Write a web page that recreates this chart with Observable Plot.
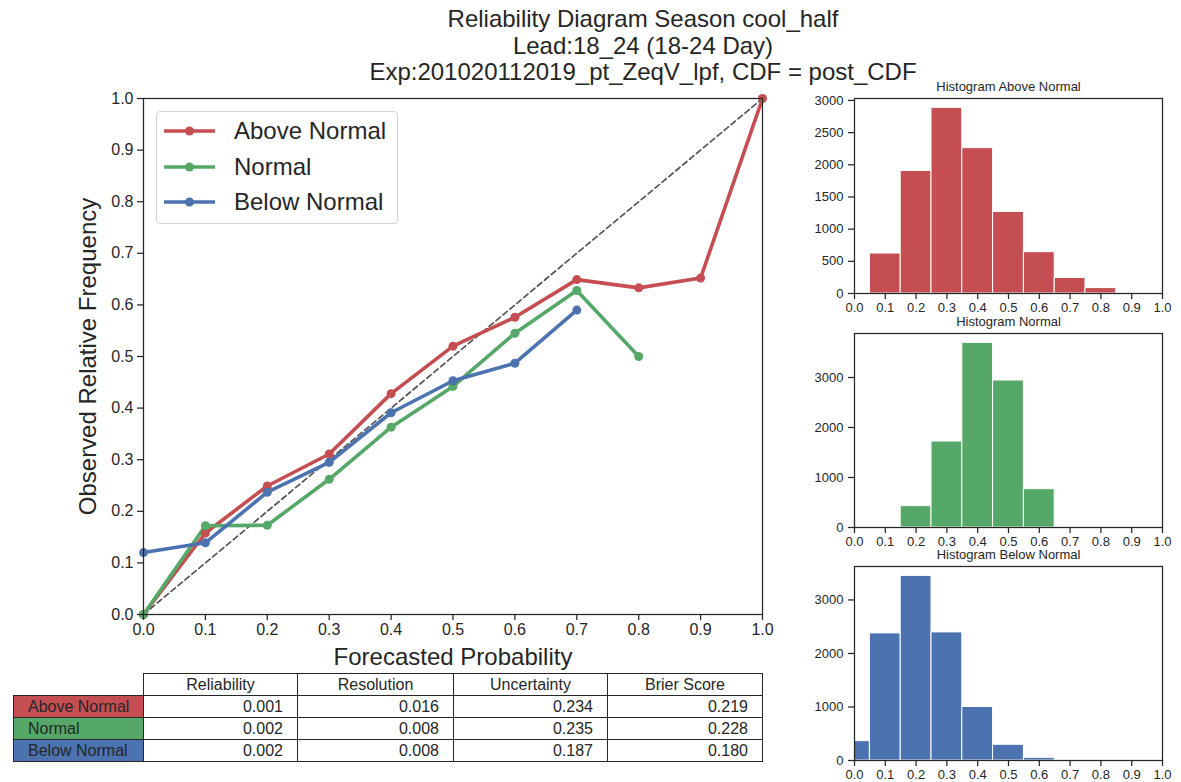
<!DOCTYPE html>
<html><head><meta charset="utf-8">
<script src="https://cdn.jsdelivr.net/npm/d3@7"></script>
<script src="https://cdn.jsdelivr.net/npm/@observablehq/plot@0.6"></script>
<style>
body{margin:0;background:#fff;font-family:"Liberation Sans",Arial,sans-serif;color:#262626}
#root{position:relative;width:1181px;height:782px;overflow:hidden;background:#fff}
.abs{position:absolute}
.abs svg{overflow:visible}
.cell{position:absolute;box-sizing:border-box;border:1px solid #262626;font-size:16px;line-height:20px;white-space:nowrap}
</style></head><body><div id="root"></div>
<script>
// ---- data ----
const titleLines = ["Reliability Diagram Season cool_half", "Lead:18_24 (18-24 Day)", "Exp:201020112019_pt_ZeqV_lpf, CDF = post_CDF"];
const categories = ["Above Normal", "Normal", "Below Normal"];
const colors = ["#c44e52", "#55a868", "#4c72b0"];
const probBins = [0, 0.1, 0.2, 0.3, 0.4, 0.5, 0.6, 0.7, 0.8, 0.9, 1.0];
const aboveObs = [0, 0.158, 0.249, 0.311, 0.428, 0.520, 0.576, 0.649, 0.633, 0.652, 1.0];
const normalObs = [0, 0.172, 0.173, 0.262, 0.363, 0.442, 0.545, 0.628, 0.500];
const belowObs = [0.120, 0.139, 0.237, 0.295, 0.391, 0.453, 0.487, 0.590];
const diagonal = [0, 1];
const histEdges = [0, 0.05, 0.15, 0.25, 0.35, 0.45, 0.55, 0.65, 0.75, 0.85, 0.95, 1.0];
const aboveCounts = [0, 621, 1904, 2885, 2259, 1268, 642, 241, 84, 16, 0];
const normalCounts = [0, 0, 427, 1720, 3694, 2940, 767, 0, 0, 0, 0];
const belowCounts = [362, 2375, 3450, 2394, 1000, 294, 50, 0, 0, 0, 0];
const histTitles = ["Histogram Above Normal", "Histogram Normal", "Histogram Below Normal"];
const histYTicks = [[0, 500, 1000, 1500, 2000, 2500, 3000], [0, 1000, 2000, 3000], [0, 1000, 2000, 3000]];
const histYMax = [3030, 3880, 3625];
const xLabel = "Forecasted Probability";
const yLabel = "Observed Relative Frequency";
const tableCols = ["Reliability", "Resolution", "Uncertainty", "Brier Score"];
const tableVals = [
  ["0.001", "0.016", "0.234", "0.219"],
  ["0.002", "0.008", "0.235", "0.228"],
  ["0.002", "0.008", "0.187", "0.180"]
];

const root = document.getElementById("root");
const FONT = '"Liberation Sans", Arial, sans-serif';
const INK = "#262626";
function place(node, left, top) {
  const d = document.createElement("div");
  d.className = "abs";
  d.style.left = left + "px"; d.style.top = top + "px";
  d.appendChild(node);
  root.appendChild(d);
  return d;
}

// ---- title ----
titleLines.forEach((t, i) => {
  const d = document.createElement("div");
  d.className = "abs";
  d.style.cssText = `left:343px;width:600px;text-align:center;top:${5 + i * 26.5}px;font-size:24px;line-height:28px;color:${INK}`;
  d.textContent = t;
  root.appendChild(d);
});

// ---- main reliability plot ----
const obs = [aboveObs, normalObs, belowObs];
const series = [];
categories.forEach((c, i) => obs[i].forEach((v, j) => series.push({cat: c, p: probBins[j], o: v})));

const main = Plot.plot({
  width: 800, height: 590,
  marginLeft: 143, marginRight: 38, marginTop: 18, marginBottom: 56,
  x: {domain: [0, 1]}, y: {domain: [0, 1]},
  color: {domain: categories, range: colors},
  style: {fontFamily: FONT, fontSize: "16px", color: INK, background: "transparent"},
  marks: [
    Plot.line(diagonal, {x: d => d, y: d => d, stroke: "#555", strokeWidth: 1.7, strokeDasharray: "5.5,3.5"}),
    Plot.line(series, {x: "p", y: "o", z: "cat", stroke: "cat", strokeWidth: 3.6}),
    Plot.dot(series, {x: "p", y: "o", fill: "cat", r: 4.5}),
    Plot.frame({stroke: INK, strokeWidth: 1.25}),
    Plot.axisX({ticks: probBins, tickFormat: d3.format(".1f"), tickSize: 6, tickPadding: 3, fontSize: 16, label: null, strokeWidth: 1.25}),
    Plot.axisY({ticks: probBins, tickFormat: d3.format(".1f"), tickSize: 6, tickPadding: 4, fontSize: 16, label: null, strokeWidth: 1.25}),
    Plot.text([xLabel], {frameAnchor: "bottom", lineAnchor: "middle", dy: 43, fontSize: 24, fill: INK}),
    Plot.text([yLabel], {frameAnchor: "left", textAnchor: "middle", lineAnchor: "middle", rotate: -90, dx: -55, fontSize: 24, fill: INK})
  ]
});
place(main, 0, 80);

// ---- legend ----
const leg = document.createElement("div");
leg.style.cssText = "position:relative;width:240px;height:111px;border:1px solid #d4d4d4;border-radius:4px;background:rgba(255,255,255,0.8)";
categories.forEach((c, i) => {
  const row = document.createElement("div");
  row.style.cssText = `position:absolute;left:7px;top:${3 + i * 35.5}px;height:32px;display:flex;align-items:center`;
  row.innerHTML = `<svg width="52" height="12" style="overflow:visible"><line x1="0" y1="6" x2="51" y2="6" stroke="${colors[i]}" stroke-width="3.6"/><circle cx="25.5" cy="6" r="4.5" fill="${colors[i]}"/></svg><span style="margin-left:18px;font-size:24px;color:${INK}">${c}</span>`;
  leg.appendChild(row);
});
place(leg, 156, 111);

// ---- histograms ----
const histCounts = [aboveCounts, normalCounts, belowCounts];
const histTops = [80, 315, 548];
const histBottoms = [21, 22, 22];
histCounts.forEach((counts, k) => {
  const bins = counts.map((n, i) => ({x1: histEdges[i], x2: histEdges[i + 1], n})).filter(d => d.n > 0);
  const h = Plot.plot({
    width: 381, height: 234,
    marginLeft: 54, marginRight: 19, marginTop: 18, marginBottom: histBottoms[k],
    x: {domain: [0, 1]}, y: {domain: [0, histYMax[k]]},
    style: {fontFamily: FONT, fontSize: "13px", color: INK, background: "transparent"},
    marks: [
      Plot.rectY(bins, {x1: "x1", x2: "x2", y: "n", fill: colors[k], stroke: "white", strokeWidth: 1}),
      Plot.frame({stroke: INK, strokeWidth: 1.25}),
      Plot.axisX({ticks: probBins, tickFormat: d3.format(".1f"), tickSize: 6, tickPadding: 3, fontSize: 13, label: null, strokeWidth: 1.25}),
      Plot.axisY({ticks: histYTicks[k], tickFormat: d => String(d), tickSize: 6, tickPadding: 5, fontSize: 13, label: null, strokeWidth: 1.25}),
      Plot.text([histTitles[k]], {frameAnchor: "top", lineAnchor: "middle", dy: -11.5, fontSize: 13, fill: INK})
    ]
  });
  place(h, 800, histTops[k]);
});

// ---- table ----
const colX = [143, 297, 453, 607, 762];
const rowY = [673, 695, 717, 739, 761];
const labelX = [13, 143];
function cell(x0, x1, y0, y1, text, align, bg) {
  const d = document.createElement("div");
  d.className = "cell";
  d.style.left = x0 + "px"; d.style.top = y0 + "px";
  d.style.width = (x1 - x0 + 1) + "px"; d.style.height = (y1 - y0 + 1) + "px";
  d.style.textAlign = align;
  d.style.padding = align === "right" ? "0 14px 0 0" : align === "left" ? "0 0 0 14px" : "0";
  d.style.lineHeight = (y1 - y0) + "px";
  if (bg) d.style.background = bg;
  d.textContent = text;
  root.appendChild(d);
}
tableCols.forEach((c, j) => cell(colX[j], colX[j + 1], rowY[0], rowY[1], c, "center"));
categories.forEach((c, i) => {
  cell(labelX[0], labelX[1], rowY[i + 1], rowY[i + 2], c, "left", colors[i]);
  tableVals[i].forEach((v, j) => cell(colX[j], colX[j + 1], rowY[i + 1], rowY[i + 2], v, "right"));
});
</script></body></html>
